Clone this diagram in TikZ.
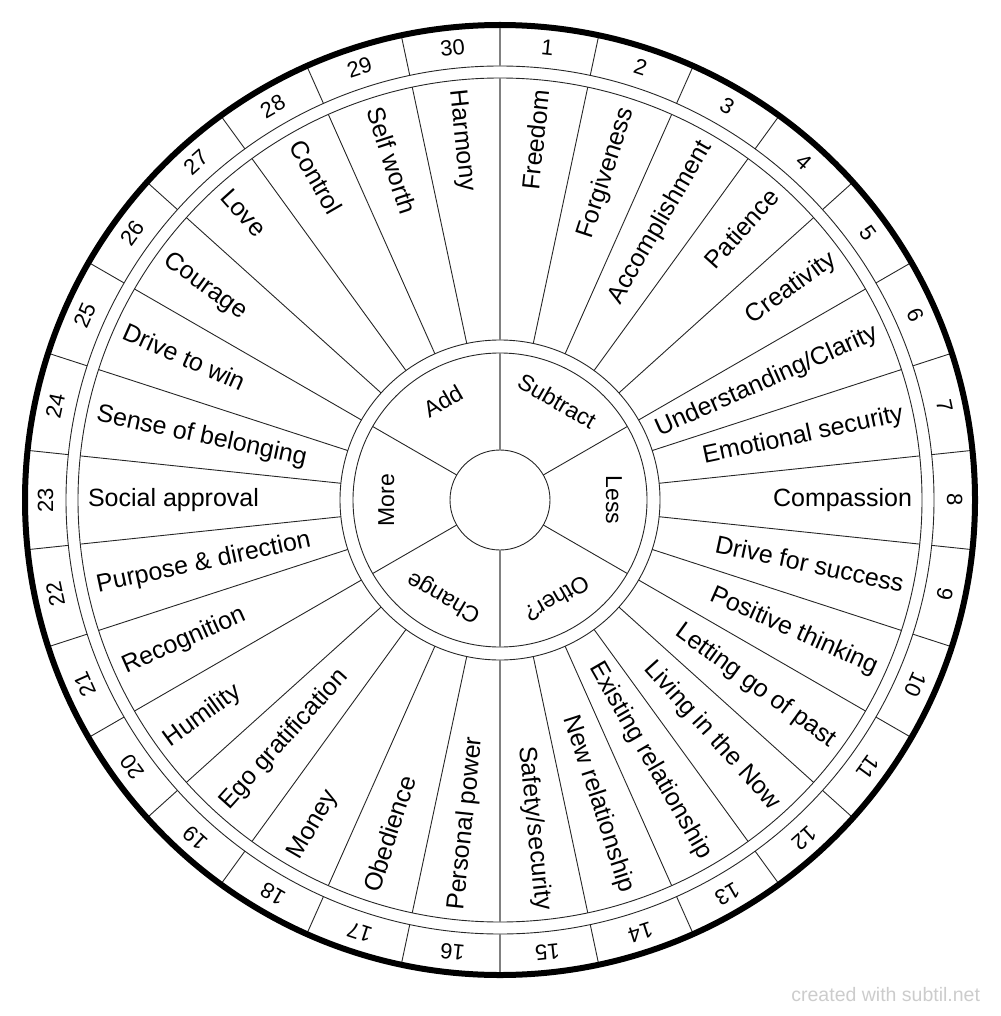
\documentclass[tikz,border=0pt]{standalone}
\usepackage{fontspec}
\setmainfont{Liberation Sans}
\begin{document}
\begin{tikzpicture}[x=1pt,y=1pt,
  thinline/.style={line width=0.9pt, draw=black!85},
  axisline/.style={line width=1.7pt, draw=black!50},
  rimline/.style={line width=6pt, draw=black},
  valtext/.style={inner sep=0pt, outer sep=0pt, font=\fontsize{25}{30}\selectfont, text height=18pt, text depth=4.6pt},
  numtext/.style={inner sep=0pt, outer sep=0pt, font=\fontsize{22}{26}\selectfont, anchor=base},
  intext/.style={inner sep=0pt, outer sep=0pt, font=\fontsize{23}{28}\selectfont, anchor=base},
  marktext/.style={inner sep=0pt, outer sep=0pt, font=\fontsize{19.5}{23}\selectfont, text=black!20, anchor=base east}
]
\useasboundingbox (0,0) rectangle (1000,-1016);
\begin{scope}[shift={(500,-500)}]
  % rings
  \draw[thinline] (0,0) circle[radius=50];
  \draw[thinline] (0,0) circle[radius=147];
  \draw[thinline] (0,0) circle[radius=160];
  \draw[thinline] (0,0) circle[radius=422];
  \draw[thinline] (0,0) circle[radius=434];
  % radial lines of the value and number rings
  \foreach \k in {1,...,14,16,17,...,29} {
    \draw[thinline] ({90-12*\k}:160) -- ({90-12*\k}:422);
    \draw[thinline] ({90-12*\k}:434) -- ({90-12*\k}:474);
  }
  % inner ring lines
  \foreach \a in {30,-30,-150,150} {
    \draw[thinline] (\a:50) -- (\a:147);
  }
  % vertical axis
  \foreach \a in {90,-90} {
    \draw[axisline] (\a:50) -- (\a:147);
    \draw[axisline] (\a:160) -- (\a:422);
    \draw[axisline] (\a:434) -- (\a:474);
  }
  % outer rim
  \draw[rimline] (0,0) circle[radius=475];
  % values, right half
  \foreach \k/\t in {1/Freedom, 2/Forgiveness, 3/Accomplishment, 4/Patience, 5/Creativity,
      6/{Understanding/Clarity}, 7/{Emotional security}, 8/Compassion, 9/{Drive for success},
      10/{Positive thinking}, 11/{Letting go of past}, 12/{Living in the Now},
      13/{Existing relationship}, 14/{New relationship}, 15/{Safety/security}} {
    \node[valtext, anchor=east, rotate={90-12*(\k-0.5)}] (v\k) at ({90-12*(\k-0.5)}:412) {\t};
  }
  % values, left half
  \foreach \k/\t in {16/{Personal power}, 17/Obedience, 18/Money, 19/{Ego gratification},
      20/Humility, 21/Recognition, 22/{Purpose \& direction}, 23/{Social approval},
      24/{Sense of belonging}, 25/{Drive to win}, 26/Courage, 27/Love, 28/Control,
      29/{Self worth}, 30/Harmony} {
    \node[valtext, anchor=west, rotate={270-12*(\k-0.5)}] (v\k) at ({90-12*(\k-0.5)}:412) {\t};
  }
  % numbers
  \foreach \k in {1,...,30} {
    \node[numtext, rotate={-12*(\k-0.5)}] (n\k) at ({90-12*(\k-0.5)}:447) {\k};
  }
  % inner labels
  \foreach \k/\t in {1/Subtract, 2/Less, 3/Other?, 4/Change, 5/More, 6/Add} {
    \node[intext, rotate={30-60*\k}] (i\k) at ({120-60*\k}:106) {\t};
  }
\end{scope}
\node[marktext] (wm) at (980,-1001.7) {created with subtil.net};
\end{tikzpicture}
\end{document}
